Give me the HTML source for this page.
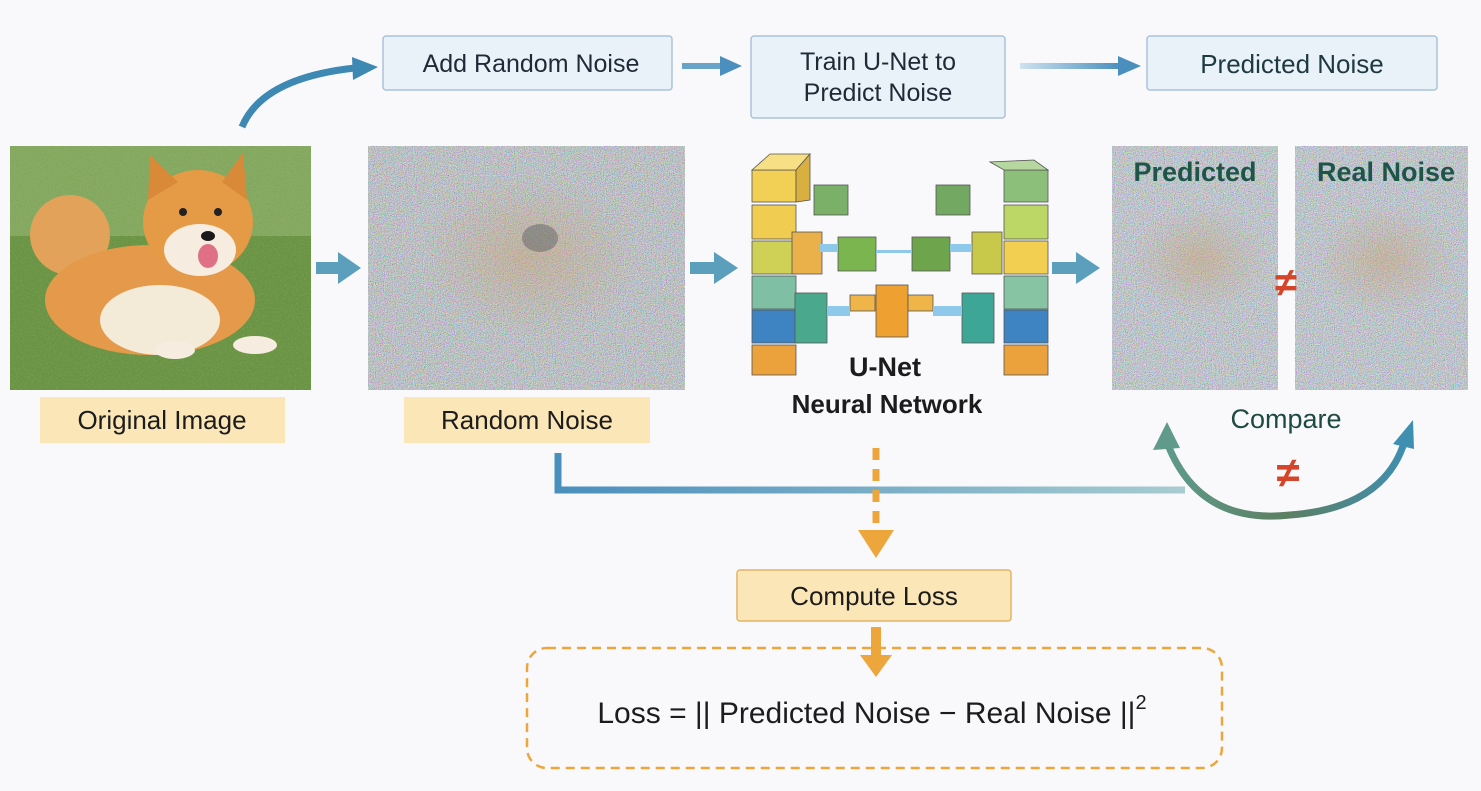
<!DOCTYPE html>
<html><head><meta charset="utf-8"><style>
html,body{margin:0;padding:0;background:#f9f9fc;}
svg{display:block;font-family:"Liberation Sans",sans-serif;}
</style></head><body>
<svg width="1481" height="791" viewBox="0 0 1481 791" xmlns="http://www.w3.org/2000/svg">
<defs>
<filter id="noise" x="0" y="0" width="100%" height="100%">
<feTurbulence type="fractalNoise" baseFrequency="1.1" numOctaves="2" seed="3"/>
<feColorMatrix type="matrix" values="1.6 0 0 0 -0.25  0 1.6 0 0 -0.22  0 0 1.6 0 -0.18  0 0 0 0 0.75"/>
<feComposite in2="SourceGraphic" operator="in"/>
</filter>
<filter id="grass" x="0" y="0" width="100%" height="100%">
<feTurbulence type="fractalNoise" baseFrequency="0.6" numOctaves="2" seed="5"/>
<feColorMatrix type="matrix" values="0 0 0 0 0.2  0 0 0 0 0.35  0 0 0 0 0.1  0 0 0 2 -0.9"/>
<feComposite in2="SourceGraphic" operator="in"/>
</filter>
<linearGradient id="blueLine" x1="0" x2="1"><stop offset="0" stop-color="#4a8fbd"/><stop offset="1" stop-color="#a8ccd0"/></linearGradient>
<linearGradient id="fadeArrow" x1="0" x2="1"><stop offset="0" stop-color="#cfe2f0"/><stop offset="1" stop-color="#4a8fbd"/></linearGradient>
<linearGradient id="arc" x1="0" x2="1"><stop offset="0" stop-color="#5f9a8a"/><stop offset="0.5" stop-color="#5c7f62"/><stop offset="1" stop-color="#3f8fb0"/></linearGradient>
<radialGradient id="ghost" cx="0.5" cy="0.5" r="0.5"><stop offset="0" stop-color="#c8a070" stop-opacity="0.45"/><stop offset="1" stop-color="#c8a070" stop-opacity="0"/></radialGradient>
</defs>

<rect x="383" y="36" width="289" height="54" rx="3" fill="#e9f1f9" stroke="#a9c3dc" stroke-width="1.5"/>
<text x="531" y="72" font-size="25" text-anchor="middle" fill="#1e2a36">Add Random Noise</text>
<rect x="751" y="36" width="254" height="82" rx="3" fill="#e9f1f9" stroke="#a9c3dc" stroke-width="1.5"/>
<text x="878" y="70" font-size="25" text-anchor="middle" fill="#1e2a36">Train U-Net to</text>
<text x="878" y="101" font-size="25" text-anchor="middle" fill="#1e2a36">Predict Noise</text>
<rect x="1147" y="36" width="290" height="54" rx="3" fill="#e9f1f9" stroke="#a9c3dc" stroke-width="1.5"/>
<text x="1292" y="73" font-size="26" text-anchor="middle" fill="#1e3a40">Predicted Noise</text>

<rect x="682" y="63" width="40" height="6" fill="#6aa3c8"/><polygon points="720,56 742,66 720,76" fill="#4a8fbd"/>
<rect x="1020" y="63" width="100" height="6" fill="url(#fadeArrow)"/><polygon points="1118,56 1141,66 1118,76" fill="#4a8fbd"/>
<path d="M242 127 Q262 78 355 68" fill="none" stroke="#3e89b4" stroke-width="7"/>
<polygon points="352,57 378,67 353,80" fill="#3e89b4"/>

<rect x="10" y="146" width="301" height="244" fill="#6a9444"/>
<rect x="10" y="146" width="301" height="90" fill="#9dbb78" opacity="0.6"/>
<rect x="10" y="146" width="301" height="244" filter="url(#grass)"/>
<ellipse cx="70" cy="235" rx="40" ry="40" fill="#e3a25a"/>
<ellipse cx="150" cy="300" rx="105" ry="55" fill="#e49a4a"/>
<ellipse cx="160" cy="320" rx="60" ry="35" fill="#f4ead8"/>
<ellipse cx="198" cy="222" rx="55" ry="52" fill="#e59a45"/>
<ellipse cx="200" cy="250" rx="36" ry="26" fill="#f6ede0"/>
<polygon points="148,200 150,155 178,182" fill="#d88a38"/>
<polygon points="222,182 243,153 247,200" fill="#d88a38"/>
<circle cx="183" cy="212" r="4" fill="#222"/><circle cx="218" cy="212" r="4" fill="#222"/>
<ellipse cx="208" cy="236" rx="7" ry="5" fill="#1a1a1a"/>
<ellipse cx="208" cy="256" rx="10" ry="12" fill="#e07086"/>
<ellipse cx="175" cy="350" rx="20" ry="9" fill="#f6ede0"/><ellipse cx="255" cy="345" rx="22" ry="9" fill="#f6ede0"/>
<rect x="40" y="397" width="245" height="46" fill="#fbe6b8"/>
<text x="162" y="429" font-size="26" text-anchor="middle" fill="#1c1c1c">Original Image</text>
<rect x="316" y="262" width="24" height="12" fill="#5b9fbd"/><polygon points="338,252 361,268 338,284" fill="#5b9fbd"/>

<rect x="368" y="146" width="317" height="244" fill="#a9aca8"/>
<rect x="368" y="146" width="317" height="244" filter="url(#noise)"/>
<ellipse cx="530" cy="255" rx="110" ry="80" fill="url(#ghost)"/>
<ellipse cx="540" cy="238" rx="18" ry="14" fill="#555a60" opacity="0.45"/>
<rect x="404" y="397" width="246" height="46" fill="#fbe6b8"/>
<text x="527" y="429" font-size="26" text-anchor="middle" fill="#1c1c1c">Random Noise</text>
<rect x="690" y="262" width="26" height="12" fill="#5b9fbd"/><polygon points="714,252 738,268 714,284" fill="#5b9fbd"/>

<g stroke="#555" stroke-width="0.8">
<rect x="752" y="170" width="44" height="32" fill="#f2cf55"/><polygon points="752,170 770,154 810,154 796,170" fill="#f6df85"/><polygon points="796,170 810,154 810,200 796,202" fill="#d9b040"/>
<rect x="752" y="205" width="44" height="34" fill="#f0cd50"/>
<rect x="752" y="241" width="44" height="33" fill="#cfd056"/>
<rect x="752" y="276" width="44" height="33" fill="#7fc0a5"/>
<rect x="752" y="310" width="44" height="33" fill="#3f84c2"/>
<rect x="752" y="345" width="44" height="30" fill="#eba23c"/>
<rect x="792" y="232" width="30" height="42" fill="#eab04a"/>
<rect x="795" y="293" width="32" height="50" fill="#4aa88c"/>
<rect x="814" y="185" width="34" height="30" fill="#7ab068"/>
<rect x="838" y="237" width="38" height="34" fill="#7ab550"/>
<rect x="850" y="295" width="25" height="16" fill="#f0b548"/>
<rect x="876" y="285" width="32" height="52" fill="#eea030"/>
<rect x="908" y="295" width="25" height="16" fill="#f0b548"/>
<rect x="912" y="237" width="38" height="34" fill="#6ea54c"/>
<rect x="936" y="185" width="34" height="30" fill="#72a862"/>
<rect x="962" y="293" width="32" height="50" fill="#3ea696"/>
<rect x="972" y="232" width="30" height="42" fill="#c8c94a"/>
<rect x="1004" y="170" width="44" height="32" fill="#8cc07a"/><polygon points="990,162 1004,170 1048,170 1034,160" fill="#b6d8a0"/>
<rect x="1004" y="205" width="44" height="34" fill="#bcd765"/>
<rect x="1004" y="241" width="44" height="33" fill="#f2cf50"/>
<rect x="1004" y="276" width="44" height="33" fill="#86c4a4"/>
<rect x="1004" y="310" width="44" height="33" fill="#3f84c2"/>
<rect x="1004" y="345" width="44" height="30" fill="#eba23c"/>
</g>
<g fill="#8ec8ea"><rect x="820" y="244" width="18" height="8"/><rect x="876" y="250" width="36" height="3"/><rect x="950" y="244" width="22" height="8"/><rect x="827" y="306" width="23" height="10"/><rect x="933" y="306" width="29" height="10"/></g>
<text x="885" y="376" font-size="27" font-weight="bold" text-anchor="middle" fill="#1c1c1c">U-Net</text>
<text x="887" y="413" font-size="26" font-weight="bold" text-anchor="middle" fill="#1c1c1c">Neural Network</text>
<rect x="1052" y="262" width="26" height="12" fill="#5b9fbd"/><polygon points="1076,252 1100,268 1076,284" fill="#5b9fbd"/>

<rect x="1112" y="146" width="166" height="244" fill="#b4bcc2"/>
<rect x="1112" y="146" width="166" height="244" filter="url(#noise)"/>
<ellipse cx="1200" cy="260" rx="70" ry="55" fill="url(#ghost)"/>
<rect x="1295" y="146" width="173" height="244" fill="#b4bcc2"/>
<rect x="1295" y="146" width="173" height="244" filter="url(#noise)"/>
<ellipse cx="1385" cy="260" rx="70" ry="55" fill="url(#ghost)"/>
<text x="1195" y="181" font-size="27" font-weight="bold" text-anchor="middle" fill="#1e5548">Predicted</text>
<text x="1386" y="181" font-size="27" font-weight="bold" text-anchor="middle" fill="#1e5548">Real Noise</text>
<text x="1286" y="296" font-size="40" font-weight="bold" text-anchor="middle" fill="#d4452a">≠</text>
<text x="1286" y="428" font-size="27" text-anchor="middle" fill="#1e4a42">Compare</text>
<path d="M558 453 V490 H1185" fill="none" stroke="url(#blueLine)" stroke-width="7"/>
<path d="M1168 445 Q1200 525 1290 515 Q1385 508 1405 440" fill="none" stroke="url(#arc)" stroke-width="7"/>
<polygon points="1153,450 1167,422 1180,448" fill="#5f9a8a"/>
<polygon points="1393,444 1413,420 1414,449" fill="#3f8fb0"/>
<text x="1288" y="487" font-size="42" font-weight="bold" text-anchor="middle" fill="#d4452a">≠</text>

<line x1="876" y1="448" x2="876" y2="530" stroke="#eda63c" stroke-width="7" stroke-dasharray="12,9"/>
<polygon points="858,530 894,530 876,558" fill="#eda63c"/>
<rect x="737" y="570" width="274" height="51" rx="3" fill="#fbe6b8" stroke="#e2b466" stroke-width="1.5"/>
<text x="874" y="605" font-size="26" text-anchor="middle" fill="#1c1c1c">Compute Loss</text>
<rect x="871" y="627" width="10" height="30" fill="#eda63c"/>
<polygon points="860,655 892,655 876,677" fill="#eda63c"/>
<rect x="527" y="648" width="695" height="120" rx="20" fill="none" stroke="#eda63c" stroke-width="2.5" stroke-dasharray="9,6"/>
<text x="872" y="723" font-size="30" text-anchor="middle" fill="#1c1c1c">Loss = || Predicted Noise − Real Noise ||<tspan font-size="20" dy="-14">2</tspan></text>
</svg>
</body></html>
